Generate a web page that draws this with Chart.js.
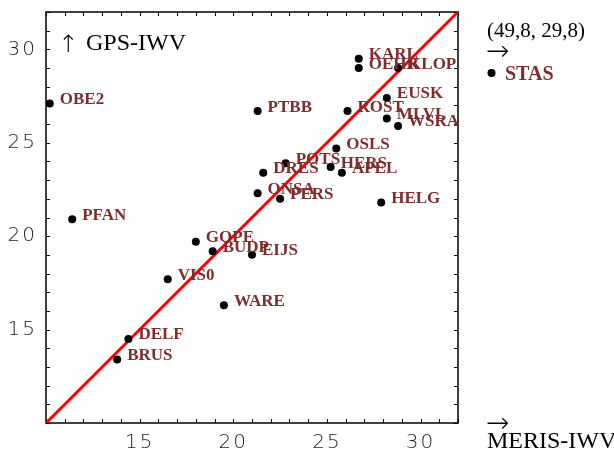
<!DOCTYPE html>
<html>
<head>
<meta charset="utf-8">
<script src="https://cdn.jsdelivr.net/npm/chart.js@4.4.1/dist/chart.umd.min.js"></script>
<style>
  html, body { margin: 0; padding: 0; background: #fff; }
</style>
</head>
<body>
<canvas id="chart" width="614" height="453"></canvas>
<script>
// station names, MERIS IWV (x) and GPS IWV (y), kg/m2
const stations = ['OBE2', 'PFAN', 'KARL', 'OEHR', 'KLOP', 'EUSK', 'PTBB', 'ROST', 'MLVL', 'WSRA',
  'OSLS', 'POTS', 'HERS', 'DRES', 'APEL', 'ONSA', 'PERS', 'HELG', 'GOPE', 'BUDP',
  'EIJS', 'VIS0', 'WARE', 'DELF', 'BRUS'];
const merisIwv = [10.2, 11.4, 26.7, 26.7, 28.8, 28.2, 21.3, 26.1, 28.2, 28.8,
  25.5, 22.8, 25.2, 21.6, 25.8, 21.3, 22.5, 27.9, 18.0, 18.9,
  21.0, 16.5, 19.5, 14.4, 13.8];
const gpsIwv = [27.1, 20.9, 29.5, 29.0, 29.0, 27.4, 26.7, 26.7, 26.3, 25.9,
  24.7, 23.9, 23.7, 23.4, 23.4, 22.3, 22.0, 21.8, 19.7, 19.2,
  19.0, 17.7, 16.3, 14.5, 13.4];

// station outside the plotted range, shown as a note on the right
const outsideName = 'STAS';
const outsideText = '(49,8, 29,8)';

const axisMin = 10;
const axisMax = 32;
const tickValues = [15, 20, 25, 30];
const diagonalX = [10, 32];
const diagonalY = [10, 32];

const labelColor = '#7f2d2d';

const framePlugin = {
  id: 'frame',
  beforeDraw(chart) {
    chart.ctx.letterSpacing = '2px';
  },
  beforeDatasetsDraw(chart) {
    const { ctx, chartArea: a, scales } = chart;
    ctx.letterSpacing = '0px';
    ctx.save();
    ctx.strokeStyle = '#000';
    ctx.lineWidth = 1;
    ctx.beginPath();
    for (let v = axisMin; v <= axisMax; v++) {
      const px = Math.round(scales.x.getPixelForValue(v)) + 0.5;
      const py = Math.round(scales.y.getPixelForValue(v)) + 0.5;
      ctx.moveTo(px, a.bottom); ctx.lineTo(px, a.bottom - 4);
      ctx.moveTo(px, a.top); ctx.lineTo(px, a.top + 4);
      ctx.moveTo(a.left, py); ctx.lineTo(a.left + 4, py);
      ctx.moveTo(a.right, py); ctx.lineTo(a.right - 4, py);
    }
    ctx.stroke();
    ctx.lineWidth = 1.5;
    ctx.strokeRect(a.left, a.top, a.right - a.left, a.bottom - a.top);
    ctx.restore();
  },
  afterDatasetsDraw(chart) {
    const { ctx } = chart;
    const meta = chart.getDatasetMeta(0);
    ctx.save();
    ctx.font = 'bold 17px "Liberation Serif"';
    ctx.fillStyle = labelColor;
    ctx.textAlign = 'left';
    ctx.textBaseline = 'alphabetic';
    meta.data.forEach((pt, i) => {
      ctx.fillText(stations[i], pt.x + 10, pt.y + 0.5);
    });
    ctx.restore();
  },
  afterDraw(chart) {
    const { ctx, chartArea: a } = chart;
    const rx = a.right + 29;
    ctx.save();
    ctx.fillStyle = '#000';
    ctx.textAlign = 'left';
    ctx.textBaseline = 'alphabetic';
    // arrows
    ctx.font = '200 24px "DejaVu Sans"';
    ctx.fillText('\u2191', a.left + 12, a.top + 40);
    ctx.font = '200 28px "DejaVu Sans"';
    ctx.fillText('\u2192', rx - 1, a.top + 48);
    ctx.fillText('\u2192', rx - 1, a.bottom + 9);
    // axis names and note
    ctx.font = '24px "Liberation Serif"';
    ctx.fillText('GPS-IWV', a.left + 40, a.top + 38);
    ctx.fillText('MERIS-IWV', rx, a.bottom + 25);
    ctx.font = '21px "Liberation Serif"';
    ctx.fillText(outsideText, rx, a.top + 25);
    ctx.beginPath();
    ctx.arc(rx + 4.5, a.top + 61, 4, 0, Math.PI * 2);
    ctx.fill();
    ctx.font = 'bold 20px "Liberation Serif"';
    ctx.fillStyle = labelColor;
    ctx.fillText(outsideName, rx + 18, a.top + 68);
    ctx.restore();
  }
};

const tickFont = { family: '"DejaVu Sans"', size: 20, weight: 200 };

new Chart(document.getElementById('chart'), {
  type: 'scatter',
  data: {
    datasets: [
      {
        data: stations.map((s, i) => ({ x: merisIwv[i], y: gpsIwv[i] })),
        backgroundColor: '#000',
        borderWidth: 0,
        pointRadius: 4,
        order: 0
      },
      {
        type: 'line',
        data: diagonalX.map((x, i) => ({ x: x, y: diagonalY[i] })),
        borderColor: '#ff0000',
        borderWidth: 3,
        pointRadius: 0,
        order: 1
      }
    ]
  },
  options: {
    responsive: false,
    animation: false,
    devicePixelRatio: 1,
    layout: { padding: { left: 0, top: 12, right: 156, bottom: 0 } },
    plugins: { legend: { display: false }, tooltip: { enabled: false } },
    scales: {
      x: {
        type: 'linear',
        min: axisMin,
        max: axisMax,
        grid: { display: false, drawTicks: false, tickLength: 0 },
        border: { display: false },
        afterBuildTicks: s => { s.ticks = tickValues.map(v => ({ value: v })); },
        afterFit: s => { s.height = 30; s.paddingLeft = 0; s.paddingRight = 0; },
        ticks: { font: tickFont, color: '#222', padding: 8, maxRotation: 0 }
      },
      y: {
        type: 'linear',
        min: axisMin,
        max: axisMax,
        grid: { display: false, drawTicks: false, tickLength: 0 },
        border: { display: false },
        afterBuildTicks: s => { s.ticks = tickValues.map(v => ({ value: v })); },
        afterFit: s => { s.width = 46; s.paddingTop = 0; s.paddingBottom = 0; },
        ticks: { font: tickFont, color: '#222', padding: 9 }
      }
    }
  },
  plugins: [framePlugin]
});
</script>
</body>
</html>
